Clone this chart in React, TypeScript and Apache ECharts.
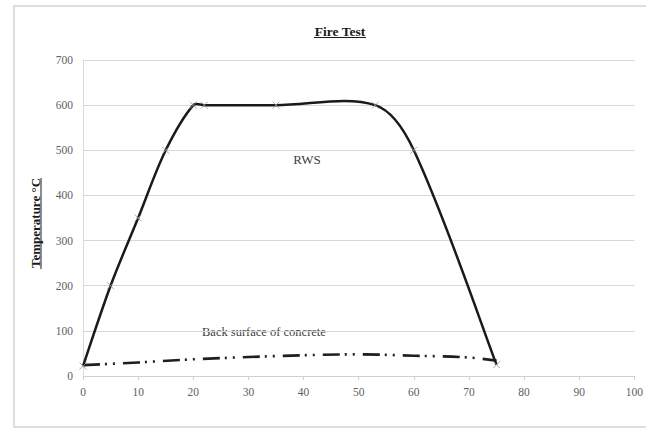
import React, { useEffect, useRef } from "react";
import * as echarts from "echarts";

const xTicks = [0, 10, 20, 30, 40, 50, 60, 70, 80, 90, 100];
const yTicks = [0, 100, 200, 300, 400, 500, 600, 700];

const rwsTime = [0, 5, 10, 15, 20, 22, 35, 53, 60, 75];
const rwsTemp = [22, 200, 350, 500, 600, 600, 600, 600, 500, 25];

const backTime = [0, 10, 20, 30, 40, 50, 60, 70, 75];
const backTemp = [24, 30, 37, 42, 46, 48, 45, 41, 34];

const TITLE = "Fire Test";
const Y_NAME = "Temperature °C";
const RWS_LABEL = "RWS";
const BACK_LABEL = "Back surface of concrete";

const SERIF = "'Liberation Serif', 'DejaVu Serif', serif";

// Spreadsheet-like smoothed curve through points in pixel space
function smoothPath(pts: number[][], s = 1 / 3): string {
  const n = pts.length;
  if (!n) return "";
  const cpIn: number[][] = [];
  const cpOut: number[][] = [];
  for (let i = 0; i < n; i++) {
    const p = pts[i];
    if (i === 0 || i === n - 1) {
      const q = i === 0 ? pts[1] : pts[n - 2];
      const vx = (q[0] - p[0]) * s * 0.5;
      const vy = (q[1] - p[1]) * s * 0.5;
      cpIn[i] = i === 0 ? p : [p[0] + vx, p[1] + vy];
      cpOut[i] = i === 0 ? [p[0] + vx, p[1] + vy] : p;
      continue;
    }
    const a = pts[i - 1];
    const b = pts[i + 1];
    const vx = b[0] - a[0];
    const vy = b[1] - a[1];
    const lp = Math.hypot(p[0] - a[0], p[1] - a[1]);
    const ln = Math.hypot(b[0] - p[0], b[1] - p[1]);
    const rn = ln / (lp + ln || 1);
    const rp = 1 - rn;
    cpIn[i] = [p[0] - vx * s * rp, p[1] - vy * s * rp];
    cpOut[i] = [p[0] + vx * s * rn, p[1] + vy * s * rn];
  }
  let d = `M${pts[0][0]} ${pts[0][1]}`;
  for (let i = 0; i < n - 1; i++) {
    const c1 = cpOut[i];
    const c2 = cpIn[i + 1];
    const p2 = pts[i + 1];
    d += ` C${c1[0]} ${c1[1]} ${c2[0]} ${c2[1]} ${p2[0]} ${p2[1]}`;
  }
  return d;
}

function curveSeries(name: string, data: number[][], style: any, z: number) {
  return {
    name,
    type: "custom",
    data,
    z,
    renderItem: (params: any, api: any) => {
      if (params.dataIndex !== 0) return { type: "group", children: [] };
      const pts = data.map((p) => api.coord(p));
      return {
        type: "path",
        shape: { pathData: smoothPath(pts) },
        style: { fill: "none", ...style },
      };
    },
  };
}

export default function App() {
  const ref = useRef<HTMLDivElement>(null);
  useEffect(() => {
    if (!ref.current) return;
    const chart = echarts.init(ref.current, undefined, { renderer: "svg" });
    const rwsData = rwsTime.map((t, i) => [t, rwsTemp[i]]);
    const backData = backTime.map((t, i) => [t, backTemp[i]]);
    chart.setOption({
      animation: false,
      backgroundColor: "#ffffff",
      grid: { left: 83, right: 10, top: 60, bottom: 53, containLabel: false },
      xAxis: {
        type: "value",
        min: xTicks[0],
        max: xTicks[xTicks.length - 1],
        interval: 10,
        axisLine: { show: true, lineStyle: { color: "#d0d0d0", width: 1 } },
        axisTick: { show: true, length: 4, lineStyle: { color: "#d0d0d0" } },
        splitLine: { show: false },
        axisLabel: { color: "#606060", fontFamily: SERIF, fontSize: 11.5, margin: 10 },
      },
      yAxis: {
        type: "value",
        min: yTicks[0],
        max: yTicks[yTicks.length - 1],
        interval: 100,
        axisLine: { show: true, lineStyle: { color: "#dadada", width: 1 } },
        axisTick: { show: false },
        splitLine: { show: true, lineStyle: { color: "#d8d8d8", width: 1 } },
        axisLabel: { color: "#606060", fontFamily: SERIF, fontSize: 11.5, margin: 10 },
      },
      series: [
        curveSeries(
          "Back surface of concrete",
          backData,
          { stroke: "#1e1e1e", lineWidth: 2.6, lineDash: [17, 5, 2, 6, 2, 8] },
          2
        ),
        curveSeries("RWS", rwsData, { stroke: "#1a1a1a", lineWidth: 2.5 }, 3),
        {
          name: "RWS markers",
          type: "scatter",
          data: rwsData,
          symbol: "path://M0 0L10 10M10 0L0 10",
          symbolSize: 7,
          itemStyle: { color: "rgba(0,0,0,0)", borderColor: "#9a9a9a", borderWidth: 1 },
          z: 4,
        },
      ],
      graphic: [
        {
          type: "rect",
          shape: { x: 14, y: 6, width: 640, height: 421 },
          style: { fill: "none", stroke: "#d4d4d4", lineWidth: 1.5 },
          silent: true,
          z: -1,
        },
        {
          type: "text",
          x: 340,
          y: 31,
          style: {
            text: TITLE,
            fill: "#1a1a1a",
            font: `bold 13.5px ${SERIF}`,
            textAlign: "center",
            textVerticalAlign: "middle",
          },
        },
        {
          type: "line",
          shape: { x1: 314, y1: 37.5, x2: 366, y2: 37.5 },
          style: { stroke: "#1a1a1a", lineWidth: 1 },
        },
        {
          type: "text",
          x: 35,
          y: 223,
          rotation: Math.PI / 2,
          style: {
            text: Y_NAME,
            fill: "#1a1a1a",
            font: `bold 13px ${SERIF}`,
            textAlign: "center",
            textVerticalAlign: "middle",
          },
        },
        {
          type: "line",
          shape: { x1: 41, y1: 178, x2: 41, y2: 269 },
          style: { stroke: "#1a1a1a", lineWidth: 1 },
        },
        {
          type: "text",
          x: 307,
          y: 159,
          style: {
            text: RWS_LABEL,
            fill: "#404040",
            font: `13px ${SERIF}`,
            textAlign: "center",
            textVerticalAlign: "middle",
          },
        },
        {
          type: "text",
          x: 202,
          y: 332,
          style: {
            text: BACK_LABEL,
            fill: "#404040",
            font: `12.5px ${SERIF}`,
            textAlign: "left",
            textVerticalAlign: "middle",
          },
        },
      ],
    });
    return () => chart.dispose();
  }, []);
  return (
    <div
      ref={ref}
      style={{ position: "absolute", left: 0, top: 0, width: 646, height: 429 }}
    />
  );
}
